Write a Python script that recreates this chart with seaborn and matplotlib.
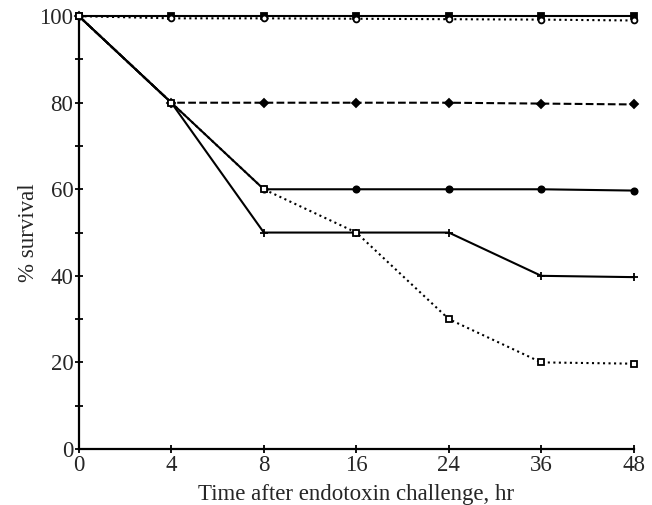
import matplotlib
matplotlib.use("Agg")
import matplotlib.pyplot as plt
import seaborn as sns
import pandas as pd
import numpy as np

time_labels = ["0", "4", "8", "16", "24", "36", "48"]
s_square_filled = [100, 100, 100, 100, 100, 100, 100]
s_circle_open = [100, 99.5, 99.5, 99.4, 99.3, 99.2, 99.0]
s_diamond = [100, 80, 80, 80, 80, 79.8, 79.6]
s_circle_filled = [100, 80, 60, 60, 60, 60, 59.7]
s_plus = [100, 80, 50, 50, 50, 40, 39.7]
s_square_open = [100, 80, 60, 50, 30, 20, 19.7]

series = [
    (s_square_filled, "-", "s", "black", 4.5),
    (s_circle_open, ":", "o", "white", 4.2),
    (s_diamond, "--", "D", "black", 3.6),
    (s_circle_filled, "-", "o", "black", 4.5),
    (s_plus, "-", "+", "black", 6),
    (s_square_open, ":", "s", "white", 4.8),
]

sns.set_style("ticks")
plt.rcParams["font.family"] = ["Liberation Serif", "DejaVu Serif"]

fig = plt.figure(figsize=(6.52, 5.05), dpi=100)
ax = fig.add_axes([0.121, 0.111, 0.851, 0.857])

x = np.arange(len(time_labels))
for vals, ls, mk, fc, ms in series:
    df = pd.DataFrame({"t": x, "v": vals})
    sns.lineplot(data=df, x="t", y="v", ax=ax, color="black", linestyle=ls,
                 marker=mk, markersize=ms, markerfacecolor=fc,
                 markeredgecolor="black", markeredgewidth=1.3, linewidth=1.5,
                 clip_on=False, zorder=3)

ax.set_xlim(0, len(time_labels) - 1)
ax.set_ylim(0, 100)
ax.set_xticks(x)
ax.set_xticklabels(time_labels)
ax.set_yticks([0, 20, 40, 60, 80, 100])
ax.set_yticks([10, 30, 50, 70, 90], minor=True)
ax.tick_params(axis="both", which="both", direction="inout", length=6, width=1.3,
               labelsize=16.5, color="black", pad=1)
for sp in ["top", "right"]:
    ax.spines[sp].set_visible(False)
for sp in ["left", "bottom"]:
    ax.spines[sp].set_linewidth(1.6)
    ax.spines[sp].set_color("black")
ax.set_xlabel("Time after endotoxin challenge, hr", fontsize=16.5, labelpad=6)
ax.set_ylabel("% survival", fontsize=16.5, labelpad=0)

fig.savefig("out.png", dpi=100)
